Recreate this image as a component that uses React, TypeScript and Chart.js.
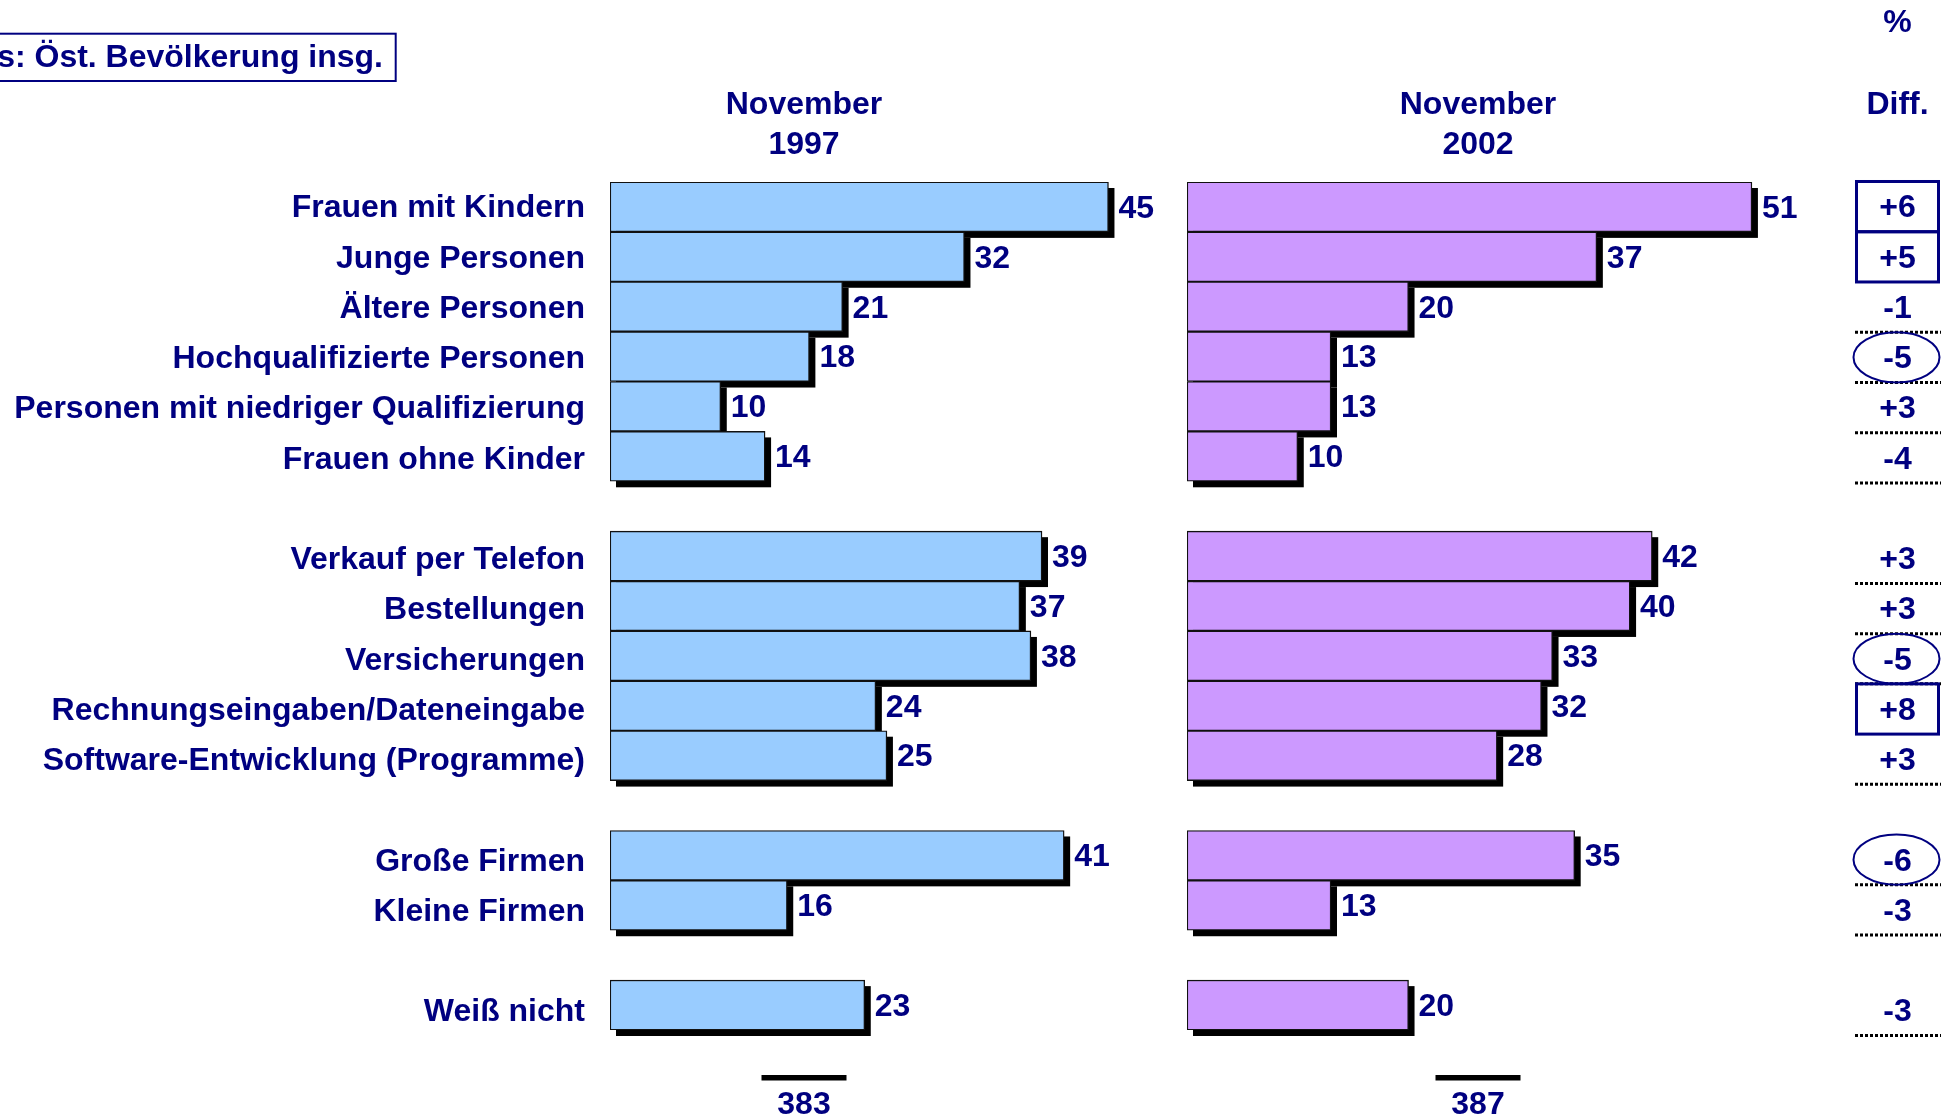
import React, { useEffect, useRef } from 'react';
import { Chart, registerables } from 'chart.js';

Chart.register(...registerables);

// ---------- data ----------
const categories = [
  'Frauen mit Kindern',
  'Junge Personen',
  'Ältere Personen',
  'Hochqualifizierte Personen',
  'Personen mit niedriger Qualifizierung',
  'Frauen ohne Kinder',
  '',
  'Verkauf per Telefon',
  'Bestellungen',
  'Versicherungen',
  'Rechnungseingaben/Dateneingabe',
  'Software-Entwicklung (Programme)',
  '',
  'Große Firmen',
  'Kleine Firmen',
  '',
  'Weiß nicht',
];
const values1997 = [45, 32, 21, 18, 10, 14, null, 39, 37, 38, 24, 25, null, 41, 16, null, 23];
const values2002 = [51, 37, 20, 13, 13, 10, null, 42, 40, 33, 32, 28, null, 35, 13, null, 20];
const diffLabels = ['+6', '+5', '-1', '-5', '+3', '-4', '', '+3', '+3', '-5', '+8', '+3', '', '-6', '-3', '', '-3'];
const diffMarks = ['box', 'box', 'line', 'ellipse', 'line', 'line', '', 'line', 'line', 'ellipse', 'box', 'line', '', 'ellipse', 'line', '', 'line'];
const panelHeaders = [['November', '1997'], ['November', '2002']];
const panelTotals = ['383', '387'];
const diffHeader = ['%', 'Diff.'];
const baseLabel = 's: Öst. Bevölkerung insg.';
const X_MAX = 52;

// ---------- style / layout ----------
const W = 1952;
const H = 1119;
const FONT = '"Liberation Sans", Arial, Helvetica, sans-serif';
const NAVY = '#000080';
const COLORS = ['#99CCFF', '#CC99FF'];
const AREA_TOP = 182;
const AREA_BOTTOM_PAD = H - 1030;
const PANEL_X = [
  [610, 1186],
  [1187, 1763],
];
// text rows (labels / diff column) sit on a slightly looser grid than the bars
const TEXT_AXIS_MIN = -0.49;
const TEXT_AXIS_MAX = 16.39;
const HEADER_X = [804, 1478];
const DIFF_X = 1897.5;
const DIFF_LEFT = 1855;
const DIFF_W = 85;
const SHADOW = 6;

function font(size: number) {
  return `bold ${size}px ${FONT}`;
}

function makeChart(canvas: HTMLCanvasElement, panel: number) {
  const values = panel === 0 ? values1997 : values2002;

  const shadowPlugin = {
    id: 'barShadow' + panel,
    beforeDatasetsDraw(chart: any) {
      const ctx = chart.ctx;
      const meta = chart.getDatasetMeta(0);
      ctx.save();
      ctx.fillStyle = '#000';
      meta.data.forEach((el: any, i: number) => {
        if (values[i] == null) return;
        const { x, y, base, height } = el.getProps(['x', 'y', 'base', 'height'], true);
        const left = Math.min(x, base);
        const w = Math.abs(x - base);
        ctx.fillRect(left + SHADOW, y - height / 2 + SHADOW, w, height);
      });
      ctx.restore();
    },
    afterDatasetsDraw(chart: any) {
      const ctx = chart.ctx;
      const meta = chart.getDatasetMeta(0);
      ctx.save();
      ctx.fillStyle = NAVY;
      ctx.font = font(32);
      ctx.textAlign = 'left';
      ctx.textBaseline = 'middle';
      meta.data.forEach((el: any, i: number) => {
        const v = values[i];
        if (v == null) return;
        const { x, y } = el.getProps(['x', 'y'], true);
        ctx.fillText(String(v), x + 10, y + 2);
      });
      ctx.restore();
    },
  };

  const decorPlugin = {
    id: 'decor' + panel,
    afterDraw(chart: any) {
      const ctx = chart.ctx;
      ctx.save();
      ctx.fillStyle = NAVY;
      ctx.textAlign = 'center';
      ctx.textBaseline = 'middle';
      // panel header
      ctx.font = font(32);
      ctx.fillText(panelHeaders[panel][0], HEADER_X[panel], 105.5);
      ctx.fillText(panelHeaders[panel][1], HEADER_X[panel], 145.5);
      // total
      ctx.fillStyle = '#000';
      ctx.fillRect(HEADER_X[panel] - 42.5, 1075, 85, 5.5);
      ctx.fillStyle = NAVY;
      ctx.font = font(32);
      ctx.fillText(panelTotals[panel], HEADER_X[panel], 1105);

      if (panel === 0) {
        // base box
        ctx.strokeStyle = NAVY;
        ctx.lineWidth = 2;
        ctx.strokeRect(-5, 33.7, 400.7, 47.3);
        ctx.font = font(32);
        ctx.textAlign = 'right';
        ctx.fillText(baseLabel, 383, 58.5);
      } else {
        const yd = chart.scales.yd;
        // diff column
        ctx.font = font(32);
        ctx.textAlign = 'center';
        ctx.fillText(diffHeader[0], DIFF_X, 23);
        ctx.fillText(diffHeader[1], DIFF_X, 105.5);

        // dotted lines
        ctx.save();
        ctx.strokeStyle = '#000';
        ctx.lineWidth = 3;
        ctx.setLineDash([3, 2]);
        diffMarks.forEach((m, i) => {
          if (!m || m === 'box') return;
          const yb = yd.getPixelForValue(i + 0.5);
          ctx.beginPath();
          ctx.moveTo(DIFF_LEFT, yb);
          ctx.lineTo(DIFF_LEFT + DIFF_W + 1, yb);
          ctx.stroke();
        });
        ctx.restore();
        // boxes & ellipses
        ctx.strokeStyle = NAVY;
        diffMarks.forEach((m, i) => {
          const yc = yd.getPixelForValue(i);
          const yt = yd.getPixelForValue(i - 0.5);
          const yb = yd.getPixelForValue(i + 0.5);
          if (m === 'box') {
            ctx.lineWidth = 3;
            ctx.strokeRect(DIFF_LEFT + 1.5, yt, DIFF_W - 3, yb - yt);
          } else if (m === 'ellipse') {
            ctx.lineWidth = 2;
            ctx.beginPath();
            ctx.ellipse(DIFF_X - 1, yc, 43, (yb - yt) / 2, 0, 0, Math.PI * 2);
            ctx.stroke();
          }
        });
        ctx.fillStyle = NAVY;
        ctx.font = font(32);
        diffLabels.forEach((t, i) => {
          if (!t) return;
          ctx.fillText(t, DIFF_X, yd.getPixelForValue(i) + 2);
        });
      }
      ctx.restore();
    },
  };

  const padLeft = panel === 0 ? 0 : PANEL_X[1][0];
  const padRight = W - PANEL_X[panel][1];

  const textAxisBase = {
    type: 'linear',
    position: 'left',
    reverse: true,
    offset: false,
    beginAtZero: false,
    min: TEXT_AXIS_MIN,
    max: TEXT_AXIS_MAX,
    grid: { display: false, drawTicks: false, offset: false },
    border: { display: false },
    afterBuildTicks: (s: any) => {
      s.ticks = categories.map((_, i) => ({ value: i }));
    },
  };

  const scales: any = {
    x: { display: false, min: 0, max: X_MAX },
    y: { type: 'category', display: false },
  };
  if (panel === 0) {
    scales.yl = {
      ...textAxisBase,
      display: true,
      ticks: {
        color: NAVY,
        font: { family: FONT, size: 32, weight: 'bold' },
        padding: 25,
        labelOffset: 2,
        autoSkip: false,
        callback: (v: any) => categories[Math.round(Number(v))] ?? '',
      },
      afterFit: (s: any) => {
        s.width = PANEL_X[0][0];
      },
    };
  } else {
    scales.yd = { ...textAxisBase, display: false };
  }

  return new Chart(canvas, {
    type: 'bar',
    data: {
      labels: categories,
      datasets: [
        {
          data: values as any,
          yAxisID: 'y',
          xAxisID: 'x',
          backgroundColor: COLORS[panel],
          borderColor: '#111',
          borderWidth: 1.4,
          borderSkipped: false,
          barPercentage: 1,
          categoryPercentage: 1,
        },
      ],
    },
    options: {
      indexAxis: 'y',
      responsive: false,
      animation: false,
      devicePixelRatio: 1,
      layout: {
        padding: { left: padLeft, right: padRight, top: AREA_TOP, bottom: AREA_BOTTOM_PAD },
      },
      plugins: {
        legend: { display: false },
        tooltip: { enabled: false },
        title: { display: false },
      },
      scales,
    } as any,
    plugins: [shadowPlugin, decorPlugin],
  });
}

export default function App() {
  const leftRef = useRef<HTMLCanvasElement | null>(null);
  const rightRef = useRef<HTMLCanvasElement | null>(null);

  useEffect(() => {
    const charts: Chart[] = [];
    if (leftRef.current) charts.push(makeChart(leftRef.current, 0));
    if (rightRef.current) charts.push(makeChart(rightRef.current, 1));
    return () => charts.forEach((c) => c.destroy());
  }, []);

  const canvasStyle: React.CSSProperties = {
    position: 'absolute',
    left: 0,
    top: 0,
    width: W,
    height: H,
    display: 'block',
  };

  return (
    <div style={{ position: 'absolute', left: 0, top: 0, width: W, height: H, background: '#fff', overflow: 'hidden' }}>
      <canvas ref={leftRef} width={W} height={H} style={canvasStyle} />
      <canvas ref={rightRef} width={W} height={H} style={canvasStyle} />
    </div>
  );
}
